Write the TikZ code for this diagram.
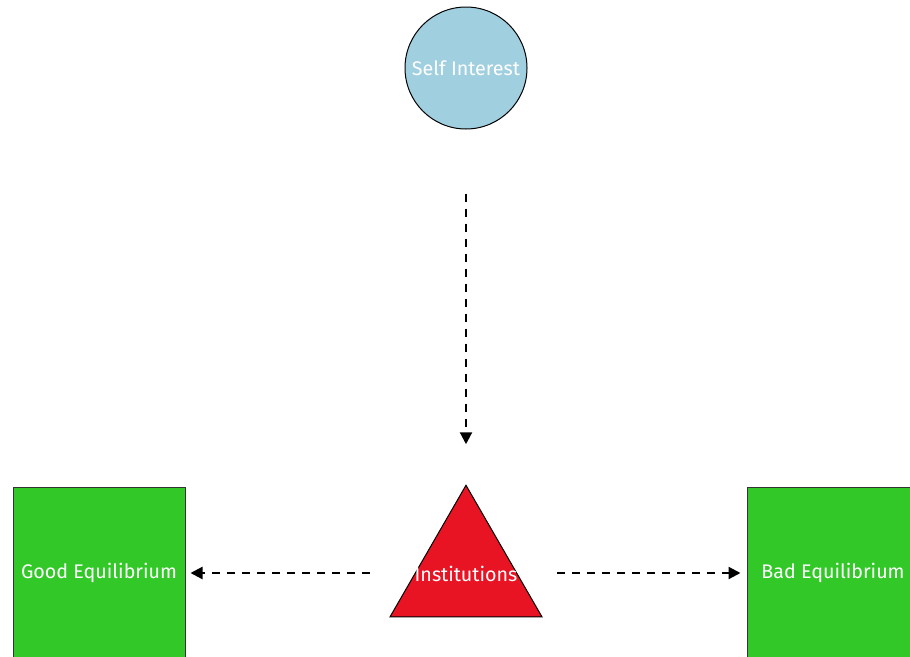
\documentclass[tikz,border=0pt]{standalone}
\usepackage{fontspec}
\setmainfont{Fira Sans}
\usepackage{tikz}
\usetikzlibrary{arrows.meta,shapes.geometric}

\definecolor{selfblue}{RGB}{160,207,224}
\definecolor{eqgreen}{RGB}{50,200,40}
\definecolor{instred}{RGB}{232,20,36}

\begin{document}
\begin{tikzpicture}[x=1pt,y=-1pt,
    lbl/.style={text=white,font=\fontsize{19.7}{22}\selectfont},
    flow/.style={line width=2.2pt,dash pattern=on 8pt off 7pt,
                 arrows={-Triangle[length=12pt,width=12pt]}},
    eqbox/.style={draw=black!80,line width=1pt,fill=eqgreen,minimum size=172pt,inner sep=0pt}]
            \useasboundingbox (0,0) rectangle (910,656);
            \node[circle,draw,line width=1pt,fill=selfblue,minimum size=122pt,inner sep=0pt,lbl] (self) at (466,68) {Self Interest};
            \node[regular polygon,regular polygon sides=3,draw,line width=1pt,fill=instred,minimum size=175.5pt,inner sep=0pt] (inst) at (466,573) {};
            \node[lbl] (insttext) at (466,574) {Institutions};
            \node[eqbox,lbl] (good) at (99,573) {Good Equilibrium};
            \node[eqbox,lbl] (bad) at (833,573) {Bad Equilibrium};
            \draw[flow,shorten <=64pt,shorten >=40pt] (self.south) -- (inst.north);
            \draw[flow,shorten <=96pt,shorten >=5pt] (inst.center) -- (good.east);
            \draw[flow,shorten <=91pt,shorten >=6pt] (inst.center) -- (bad.west);
        \end{tikzpicture}
\end{document}
